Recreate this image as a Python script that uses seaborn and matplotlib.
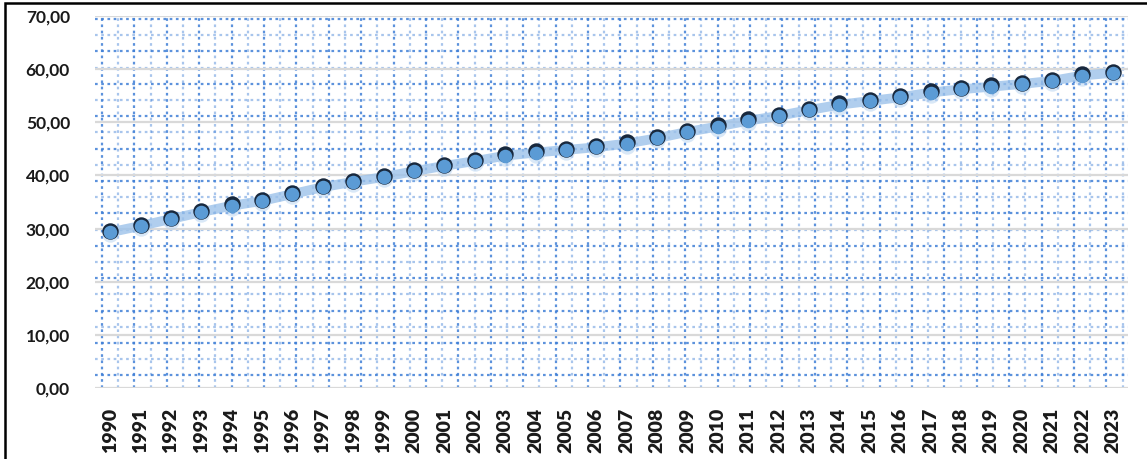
import numpy as np
import pandas as pd
import matplotlib
matplotlib.use("Agg")
import matplotlib.pyplot as plt
import matplotlib.transforms as mtransforms
from matplotlib.patches import Rectangle
import seaborn as sns

# ---- data -------------------------------------------------------------
years = [str(y) for y in range(1990, 2024)]
values = [29.3, 30.5, 31.8, 33.1, 34.3, 35.2, 36.5, 37.8, 38.8, 39.7,
          40.8, 41.8, 42.7, 43.7, 44.3, 44.8, 45.3, 46.0, 47.0, 48.2,
          49.2, 50.3, 51.2, 52.3, 53.3, 54.0, 54.7, 55.6, 56.2, 56.7,
          57.2, 57.8, 58.8, 59.3]
y_ticks = [0, 10, 20, 30, 40, 50, 60, 70]
y_tick_labels = ["0,00", "10,00", "20,00", "30,00", "40,00", "50,00", "60,00", "70,00"]

df = pd.DataFrame({"year": years, "value": values})

# ---- figure -------------------------------------------------------------
sns.set_theme(style="white")
plt.rcParams["font.family"] = ["Lato", "DejaVu Sans"]

W, H = 1147, 459
fig = plt.figure(figsize=(W / 100, H / 100), dpi=100)
ax_l, ax_r, ax_t, ax_b = 95, 1128, 16, 388
ax = fig.add_axes([ax_l / W, 1 - ax_b / H, (ax_r - ax_l) / W, (ax_b - ax_t) / H])
ax.set_facecolor("white")

# dotted blue lattice filling the plot area (positions in axes fraction)
aw, ah = ax_r - ax_l, ax_b - ax_t
step = 16.2
for i, xp in enumerate(np.arange(7, aw, step)):
    ax.plot([xp / aw, xp / aw], [0, 1], transform=ax.transAxes,
            color="#3f7fd6", lw=1.6, ls=(0, (1.2, 1.6)),
            alpha=0.85 if i % 2 == 0 else 0.45, zorder=0.5)
for i, yp in enumerate(np.arange(3, ah, step)):
    ax.plot([0, 1], [1 - yp / ah, 1 - yp / ah], transform=ax.transAxes,
            color="#3f7fd6", lw=1.6, ls=(0, (1.2, 1.6)),
            alpha=0.85 if i % 2 == 0 else 0.45, zorder=0.5)

# major gridlines
for yt in y_ticks:
    ax.axhline(yt, color="#d9d9d9", lw=1.6, zorder=0.8)

# trend line
sns.lineplot(data=df, x="year", y="value", ax=ax, sort=False,
             color="#9cc2ea", lw=7, alpha=0.8, zorder=2, solid_capstyle="round")

# markers: soft glow below, dark rim on top, blue face
glow = mtransforms.offset_copy(ax.transData, fig=fig, x=0, y=-2.0, units="dots")
rim = mtransforms.offset_copy(ax.transData, fig=fig, x=0, y=1.3, units="dots")
sns.scatterplot(data=df, x="year", y="value", ax=ax, s=140, color="#b5d2f0",
                alpha=0.5, linewidth=0, zorder=3, transform=glow)
sns.scatterplot(data=df, x="year", y="value", ax=ax, s=140, color="#18283d",
                linewidth=0, zorder=4, transform=rim)
sns.scatterplot(data=df, x="year", y="value", ax=ax, s=95, color="#5b9bd5",
                linewidth=0, zorder=5)

ax.set_xlim(-0.5, len(years) - 0.5)
ax.set_ylim(0, 70)
ax.set_yticks(y_ticks)
ax.set_yticklabels(y_tick_labels, fontsize=12.5, fontweight="bold", color="#1a1a1a")
ax.tick_params(axis="y", length=0, pad=18)
ax.tick_params(axis="x", length=0, pad=14)
for lbl in ax.get_xticklabels():
    lbl.set_rotation(90)
    lbl.set_fontsize(14)
    lbl.set_fontweight("heavy")
    lbl.set_color("#1a1a1a")
ax.set_xlabel("")
ax.set_ylabel("")
for sp in ax.spines.values():
    sp.set_visible(False)

# outer frame
fig.patches.append(Rectangle((5 / W, -0.5), 2.0, 1.5 - 3 / H, transform=fig.transFigure,
                             fill=False, edgecolor="black", lw=1.8, zorder=10))

fig.savefig("out.png", dpi=100)
